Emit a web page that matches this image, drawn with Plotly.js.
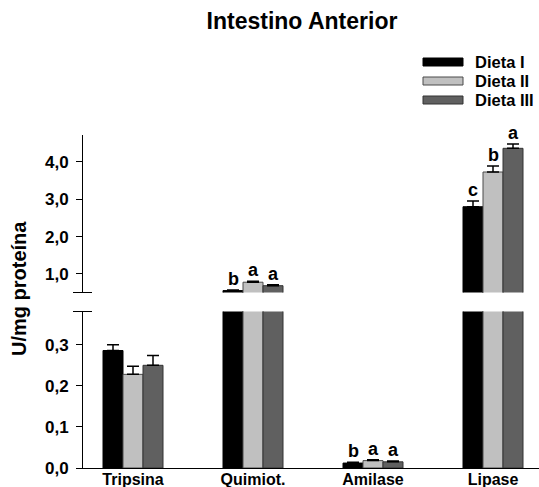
<!DOCTYPE html>
<html>
<head>
<meta charset="utf-8">
<script src="https://cdn.plot.ly/plotly-3.0.1.min.js"></script>
<style>
  html, body { margin: 0; padding: 0; background: #fff; }
  #chart { width: 539px; height: 487px; }
</style>
</head>
<body>
<div id="chart"></div>
<script>
// Enzyme activity in the anterior intestine, per diet (U/mg protein)
const categories = ['Tripsina', 'Quimiot.', 'Amilase', 'Lipase'];
const seriesNames = ['Dieta I', 'Dieta II', 'Dieta III'];

const dietaI = [0.286, 0.556, 0.012, 2.797];
const dietaII = [0.228, 0.780, 0.018, 3.725];
const dietaIII = [0.250, 0.687, 0.015, 4.358];

const dietaIErr = [0.014, 0.015, 0.002, 0.150];
const dietaIIErr = [0.020, 0.025, 0.002, 0.160];
const dietaIIIErr = [0.024, 0.025, 0.002, 0.115];

// significance letters (empty = none drawn)
const dietaILetters = ['', 'b', 'b', 'c'];
const dietaIILetters = ['', 'a', 'a', 'b'];
const dietaIIILetters = ['', 'a', 'a', 'a'];

const lowerTicks = [0, 0.1, 0.2, 0.3];
const upperTicks = [1, 2, 3, 4];

const fills = ['#000000', '#c0c0c0', '#606060'];
const outlines = ['#000000', '#4a4a4a', '#333333'];

const values = [dietaI, dietaII, dietaIII];
const errors = [dietaIErr, dietaIIErr, dietaIIIErr];
const letters = [dietaILetters, dietaIILetters, dietaIIILetters];

// broken value axis: low part and high part
const lowerRange = [0, 0.381];
const upperRange = [0.505, 4.714];

const FONT = 'Liberation Sans, Arial, sans-serif';

const traces = [];
values.forEach((vals, s) => {
  ['y', 'y2'].forEach(ax => {
    traces.push({
      type: 'bar',
      x: categories,
      y: vals,
      yaxis: ax,
      name: seriesNames[s],
      offsetgroup: 'g' + s,
      showlegend: false,
      marker: { color: fills[s], line: { color: outlines[s], width: 1 } },
      error_y: {
        type: 'data', array: errors[s], visible: true,
        symmetric: false, arrayminus: vals.map(() => 0),
        color: '#000', thickness: 1.5, width: 6
      },
      hoverinfo: 'skip'
    });
  });
});

// layout geometry (pixels)
const W = 539, H = 487;
const mL = 83, mR = 0, mT = 0, mB = 19;
const plotW = W - mL - mR, plotH = H - mT - mB;
const py = p => (plotH - (p - mT)) / plotH;   // pixel row -> paper y
const px = p => (p - mL) / plotW;             // pixel column -> paper x

const annotations = [];
const barFrac = 1 / 6; // each bar is a sixth of a category slot
letters.forEach((row, s) => {
  row.forEach((lab, c) => {
    if (!lab) return;
    const top = values[s][c] + errors[s][c];
    annotations.push({
      text: '<b>' + lab + '</b>',
      x: c + (s - 1) * barFrac,
      xref: 'x',
      y: top,
      yref: top > lowerRange[1] ? 'y2' : 'y',
      yanchor: 'bottom', xanchor: 'center',
      showarrow: false,
      yshift: -1,
      font: { family: FONT, size: 18, color: '#000' }
    });
  });
});

// y-axis title spanning both parts
annotations.push({
  text: '<b>U/mg proteína</b>',
  xref: 'paper', yref: 'paper',
  x: px(19), y: py(289),
  textangle: -90, showarrow: false,
  xanchor: 'center', yanchor: 'middle',
  font: { family: FONT, size: 20, color: '#000' }
});

// legend block
const legendRows = [62, 81, 100];
const shapes = [];
seriesNames.forEach((nm, s) => {
  const cy = legendRows[s];
  shapes.push({
    type: 'rect', xref: 'paper', yref: 'paper',
    x0: px(423), x1: px(463), y0: py(cy + 4), y1: py(cy - 4),
    fillcolor: fills[s], line: { color: outlines[s], width: 1 }
  });
  annotations.push({
    text: '<b>' + nm + '</b>',
    xref: 'paper', yref: 'paper',
    x: px(473), y: py(cy),
    xanchor: 'left', yanchor: 'middle', showarrow: false,
    font: { family: FONT, size: 16.5, color: '#000' }
  });
});

// axis break marks
shapes.push({
  type: 'line', xref: 'paper', yref: 'y2 domain',
  xsizemode: 'pixel', xanchor: 0, x0: -10, x1: 9, y0: 0, y1: 0,
  line: { color: '#000', width: 1 }
});
shapes.push({
  type: 'line', xref: 'paper', yref: 'y domain',
  xsizemode: 'pixel', xanchor: 0, x0: -10, x1: 9, y0: 1, y1: 1,
  line: { color: '#000', width: 1 }
});

const yCommon = {
  showgrid: false, zeroline: false,
  showline: true, linecolor: '#000', linewidth: 1,
  ticks: 'outside', ticklen: 6, tickwidth: 1, tickcolor: '#000',
  tickformat: '.1f',
  ticklabelstandoff: 4,
  tickfont: { family: FONT, size: 17, color: '#000', weight: 'bold' },
  fixedrange: true
};

const layout = {
  width: W, height: H,
  margin: { l: mL, r: mR, t: mT, b: mB, pad: 0 },
  paper_bgcolor: '#fff', plot_bgcolor: '#fff',
  separators: ',.',
  barmode: 'group', bargap: 0.5, bargroupgap: 0,
  showlegend: false,
  title: {
    text: '<b>Intestino Anterior</b>',
    xref: 'container', yref: 'container',
    x: 302 / W, y: 1 - 21 / H, xanchor: 'center', yanchor: 'middle',
    font: { family: FONT, size: 23, color: '#000' }
  },
  xaxis: {
    type: 'category',
    range: [-50 / 120, -50 / 120 + plotW / 120],
    showgrid: false, zeroline: false,
    showline: true, linecolor: '#000', linewidth: 1,
    ticks: '', anchor: 'y',
    ticklabelstandoff: -3,
    tickfont: { family: FONT, size: 16, color: '#000', weight: 'bold' },
    fixedrange: true
  },
  yaxis: Object.assign({}, yCommon, {
    domain: [0, py(311.5)],
    range: lowerRange,
    tickvals: lowerTicks,
    anchor: 'x'
  }),
  yaxis2: Object.assign({}, yCommon, {
    domain: [py(292.5), py(135)],
    range: upperRange,
    tickvals: upperTicks,
    anchor: 'x'
  }),
  shapes: shapes,
  annotations: annotations
};

Plotly.newPlot('chart', traces, layout, { displayModeBar: false, staticPlot: true });
</script>
</body>
</html>
